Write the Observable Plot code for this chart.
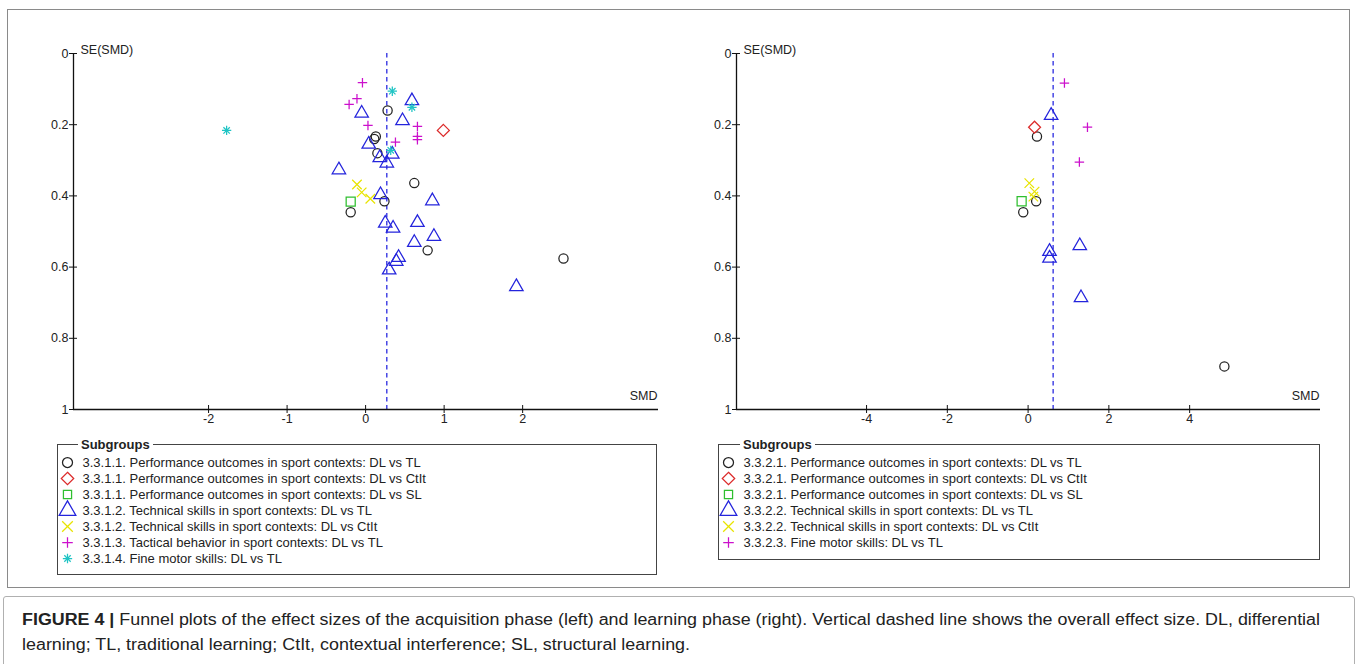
<!DOCTYPE html>
<html>
<head>
<meta charset="utf-8">
<script src="https://cdn.jsdelivr.net/npm/d3@7"></script>
<script src="https://cdn.jsdelivr.net/npm/@observablehq/plot@0.6"></script>
<style>
  html, body { margin: 0; padding: 0; background: #fff; }
  body { width: 1358px; height: 664px; position: relative; overflow: hidden;
         font-family: "Liberation Sans", Arial, sans-serif; color: #222; }
  #frame { position: absolute; left: 7px; top: 9px; width: 1343px; height: 579px; border: 1px solid #8a8a8a; box-sizing: border-box; }
  #capbox { position: absolute; left: 3px; top: 596px; width: 1352px; height: 80px; border: 1px solid #b0b0b0; border-radius: 3px; box-sizing: border-box; }
  #left { position: absolute; left: 0; top: 0; }
  #right { position: absolute; left: 680px; top: 0; }
  .lgbox { position: absolute; border: 1px solid #444; box-sizing: border-box; }
  .lgbox .ttl { position: absolute; top: -8px; background: #fff; padding: 0 3px; font-weight: bold; font-size: 13px; line-height: 15px; color: #222; }
  .lgbox svg { position: absolute; left: 0; top: 0; }
  .cap { position: absolute; left: 22px; font-size: 16px; line-height: 20px; white-space: nowrap; transform-origin: 0 50%; color: #222; }
  .cap b { font-weight: bold; }
</style>
</head>
<body>
<div id="frame"></div>
<div id="capbox"></div>
<div id="left"></div>
<div id="right"></div>
<div class="lgbox" id="lgL" style="left:57px;top:444px;width:600px;height:131px;"><span class="ttl" style="left:20px;">Subgroups</span></div>
<div class="lgbox" id="lgR" style="left:718px;top:444px;width:602px;height:116px;"><span class="ttl" style="left:21px;">Subgroups</span></div>
<div class="cap" id="cap1" style="top:610px;"><b>FIGURE 4 |</b> Funnel plots of the effect sizes of the acquisition phase (left) and learning phase (right). Vertical dashed line shows the overall effect size. DL, differential</div>
<div class="cap" id="cap2" style="top:635px;">learning; TL, traditional learning; CtIt, contextual interference; SL, structural learning.</div>
<script>
// ---------- data (SMD, SE(SMD)) ----------
const yTicks = [0, 0.2, 0.4, 0.6, 0.8, 1];
const acqTicksX = [-2, -1, 0, 1, 2];
const learnTicksX = [-4, -2, 0, 2, 4];
const acqOverall = 0.27;
const learnOverall = 0.62;

const acqLabels = [
  "3.3.1.1. Performance outcomes in sport contexts: DL vs TL",
  "3.3.1.1. Performance outcomes in sport contexts: DL vs CtIt",
  "3.3.1.1. Performance outcomes in sport contexts: DL vs SL",
  "3.3.1.2. Technical skills in sport contexts: DL vs TL",
  "3.3.1.2. Technical skills in sport contexts: DL vs CtIt",
  "3.3.1.3. Tactical behavior in sport contexts: DL vs TL",
  "3.3.1.4. Fine motor skills: DL vs TL"
];
const learnLabels = [
  "3.3.2.1. Performance outcomes in sport contexts: DL vs TL",
  "3.3.2.1. Performance outcomes in sport contexts: DL vs CtIt",
  "3.3.2.1. Performance outcomes in sport contexts: DL vs SL",
  "3.3.2.2. Technical skills in sport contexts: DL vs TL",
  "3.3.2.2. Technical skills in sport contexts: DL vs CtIt",
  "3.3.2.3. Fine motor skills: DL vs TL"
];

// acquisition phase (left)
const acqPerfTL = [[0.28,0.160],[0.13,0.233],[0.11,0.240],[0.15,0.280],[0.62,0.364],[0.24,0.415],[-0.19,0.446],[0.79,0.553],[2.52,0.576]];
const acqPerfCtIt = [[0.99,0.216]];
const acqPerfSL = [[-0.19,0.416]];
const acqTechTL = [[-0.05,0.168],[0.59,0.133],[0.47,0.189],[0.04,0.255],[0.34,0.283],[0.18,0.293],[0.27,0.308],[-0.34,0.327],[0.19,0.397],[0.85,0.414],[0.25,0.477],[0.35,0.491],[0.66,0.475],[0.87,0.514],[0.62,0.531],[0.42,0.573],[0.39,0.584],[0.30,0.608],[1.92,0.655]];
const acqTechCtIt = [[-0.11,0.368],[-0.05,0.390],[0.06,0.408]];
const acqTactTL = [[-0.04,0.082],[-0.11,0.127],[-0.21,0.143],[0.03,0.202],[0.66,0.205],[0.66,0.233],[0.66,0.242],[0.38,0.249]];
const acqFineTL = [[0.34,0.106],[0.59,0.151],[0.32,0.272],[-1.77,0.216]];

// learning phase (right)
const learnPerfTL = [[0.22,0.233],[0.20,0.415],[-0.12,0.446],[4.86,0.879]];
const learnPerfCtIt = [[0.16,0.207]];
const learnPerfSL = [[-0.16,0.415]];
const learnTechTL = [[0.57,0.174],[1.28,0.540],[0.53,0.556],[0.53,0.575],[1.31,0.686]];
const learnTechCtIt = [[0.03,0.364],[0.16,0.388],[0.13,0.402]];
const learnFineTL = [[0.90,0.083],[1.47,0.207],[1.27,0.305]];

// ---------- styles ----------
const C = { black: "#222", red: "#dc2a2a", green: "#2fbf2f", blue: "#2424dc", yellow: "#e8e400", magenta: "#cc10cc", cyan: "#1fc4c4" };
// symbol recipes: each kind may stack several Plot symbols
const KIND = {
  circle:   { color: C.black,   parts: [["circle", 4.6, 5.0]] },
  diamond:  { color: C.red,     parts: [["diamond2", 5.4, 5.6]] },
  square:   { color: C.green,   parts: [["square", 5.1, 4.6]] },
  triangle: { color: C.blue,    parts: [["triangle", 5.0, 6.2]] },
  times:    { color: C.yellow,  parts: [["times", 4.4, 4.9]] },
  plus:     { color: C.magenta, parts: [["plus", 3.15, 3.5]] },
  star:     { color: C.cyan,    parts: [["plus", 3.1, 3.1], ["times", 3.0, 3.0]] }
};

function symbolMarks(rows, kind, legend, opts) {
  const k = KIND[kind];
  return k.parts.map(([sym, r, rl]) => Plot.dot(rows, {
    ...opts, symbol: sym, r: legend ? rl : r, fill: "none", stroke: k.color, strokeWidth: 1.25
  }));
}

function funnel({ groups, overall, xDomain, xTicks, width, marginLeft, marginRight }) {
  const marks = [
    Plot.ruleX([overall], { stroke: "#2a2ae0", strokeWidth: 1.3, strokeDasharray: "4.5,3.5" })
  ];
  for (const [data, kind] of groups) {
    const rows = data.map(([smd, se]) => ({ smd, se }));
    marks.push(...symbolMarks(rows, kind, false, { x: "smd", y: "se" }));
  }
  marks.push(
    Plot.ruleX([xDomain[0]], { stroke: "#111", strokeWidth: 1.3 }),
    Plot.ruleY([1], { stroke: "#111", strokeWidth: 1.3 }),
    Plot.axisY(yTicks, { label: null, tickSize: 8, dx: 4, tickPadding: 1, tickFormat: d => String(d), stroke: "#111" }),
    Plot.axisX(xTicks, { label: null, tickSize: 8, dy: -4, tickPadding: 1, tickFormat: d => String(d), stroke: "#111" }),
    Plot.text(["SE(SMD)"], { frameAnchor: "top-left", dx: 7, dy: -8, textAnchor: "start", fontSize: 12.5 }),
    Plot.text(["SMD"], { frameAnchor: "bottom-right", dx: -1, dy: -10, textAnchor: "end", fontSize: 12.5 })
  );
  return Plot.plot({
    width, height: 430, marginLeft, marginRight, marginTop: 53, marginBottom: 21,
    x: { domain: xDomain, label: null },
    y: { domain: [0, 1], reverse: true, label: null },
    style: { fontFamily: "Liberation Sans, Arial, sans-serif", fontSize: "12.5px", color: "#222", background: "transparent", overflow: "visible" },
    marks
  });
}

function legend(labels, kinds, w, h) {
  const marks = [];
  labels.forEach((lab, i) => {
    marks.push(...symbolMarks([lab], kinds[i], true, { x: 0, y: d => d }));
  });
  marks.push(Plot.text(labels, { x: 1, y: d => d, text: d => d, textAnchor: "start", fontSize: 13 }));
  return Plot.plot({
    width: w, height: h, margin: 0,
    x: { domain: [0, 1], range: [9, 24], axis: null },
    y: { type: "point", padding: 0, domain: labels, range: [15, 15 + 16.8 * (labels.length - 1)], axis: null },
    style: { fontFamily: "Liberation Sans, Arial, sans-serif", color: "#222", background: "transparent", overflow: "visible" },
    marks
  });
}

const acqGroups = [
  [acqPerfTL, "circle"], [acqPerfCtIt, "diamond"], [acqPerfSL, "square"],
  [acqTechTL, "triangle"], [acqTechCtIt, "times"], [acqTactTL, "plus"], [acqFineTL, "star"]
];
const learnGroups = [
  [learnPerfTL, "circle"], [learnPerfCtIt, "diamond"], [learnPerfSL, "square"],
  [learnTechTL, "triangle"], [learnTechCtIt, "times"], [learnFineTL, "plus"]
];

document.getElementById("left").append(funnel({
  groups: acqGroups, overall: acqOverall, xDomain: [-3.72, 3.73], xTicks: acqTicksX,
  width: 680, marginLeft: 73, marginRight: 22
}));
document.getElementById("right").append(funnel({
  groups: learnGroups, overall: learnOverall, xDomain: [-7.22, 7.24], xTicks: learnTicksX,
  width: 678, marginLeft: 56, marginRight: 38
}));

document.getElementById("lgL").append(legend(acqLabels, acqGroups.map(g => g[1]), 598, 129));
document.getElementById("lgR").append(legend(learnLabels, learnGroups.map(g => g[1]), 600, 114));

// fit caption lines to the reference widths
function fit(id, target) {
  const el = document.getElementById(id);
  const w = el.getBoundingClientRect().width;
  if (w > 0) el.style.transform = `scaleX(${target / w})`;
}
fit("cap1", 1298);
fit("cap2", 668);
</script>
</body>
</html>
